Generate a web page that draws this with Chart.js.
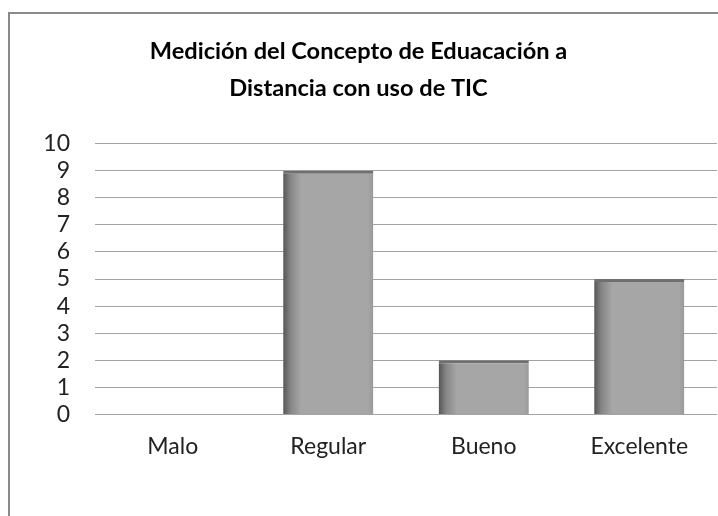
<!DOCTYPE html>
<html>
<head>
<meta charset="utf-8">
<script src="https://cdn.jsdelivr.net/npm/chart.js@4"></script>
<style>
  html, body { margin: 0; padding: 0; background: #fff; overflow: hidden; }
  #wrap { position: relative; width: 718px; height: 516px; }
  #frame { position: absolute; left: 8px; top: 12px; width: 740px; height: 540px; border: 2px solid #8a8a8a; box-sizing: border-box; }
  #c { position: absolute; left: 0; top: 0; }
</style>
</head>
<body>
<div id="wrap">
  <div id="frame"></div>
  <canvas id="c" width="718" height="516"></canvas>
</div>
<script>
const categories = ["Malo", "Regular", "Bueno", "Excelente"];
const values = [0, 9, 2, 5];
const yTicks = [0, 1, 2, 3, 4, 5, 6, 7, 8, 9, 10];
const titleLines = ["Medición del Concepto de Eduacación a", "Distancia con uso de TIC"];

const FONT = "Lato, 'Open Sans', sans-serif";
const BAR_FRAC = 0.58;

// -------- gradient for the bars (dark left edge like the original) --------
function barFill(ctx) {
  const chart = ctx.chart;
  const area = chart.chartArea;
  if (!area || !chart.scales.x) return "#a6a6a6";
  const cx = chart.scales.x.getPixelForValue(ctx.dataIndex);
  const w = (area.right - area.left) / categories.length * BAR_FRAC;
  const g = chart.ctx.createLinearGradient(cx - w / 2, 0, cx + w / 2, 0);
  g.addColorStop(0, "#555555");
  g.addColorStop(0.08, "#858585");
  g.addColorStop(0.2, "#a6a6a6");
  g.addColorStop(0.94, "#a6a6a6");
  g.addColorStop(1, "#999999");
  return g;
}

new Chart(document.getElementById("c"), {
  type: "bar",
  data: {
    labels: categories,
    datasets: [{
      data: values,
      backgroundColor: barFill,
      borderColor: "#6f6f6f",
      borderWidth: { top: 3, left: 0, right: 0, bottom: 0 },
      borderSkipped: "start",
      categoryPercentage: 1,
      barPercentage: BAR_FRAC
    }]
  },
  options: {
    responsive: false,
    animation: false,
    layout: { padding: { left: 0, right: 1, top: 12, bottom: 38 } },
    plugins: {
      legend: { display: false },
      tooltip: { enabled: false },
      title: {
        display: true,
        text: titleLines,
        color: "#000",
        font: { family: FONT, size: 23.6, weight: "bold", lineHeight: 1.56 },
        padding: { top: 21, bottom: 37 }
      }
    },
    scales: {
      x: {
        grid: { display: false, drawTicks: false },
        border: { display: false },
        ticks: { color: "#222", font: { family: FONT, size: 23 }, padding: 18 }
      },
      y: {
        min: 0,
        max: 10,
        afterFit: s => { s.width = 95; },
        afterBuildTicks: s => { s.ticks = yTicks.map(v => ({ value: v })); },
        grid: { color: "#a3a3a3", lineWidth: 1, drawTicks: false },
        border: { display: false },
        ticks: { color: "#222", font: { family: FONT, size: 23 }, padding: 25, autoSkip: false }
      }
    }
  }
});
</script>
</body>
</html>
